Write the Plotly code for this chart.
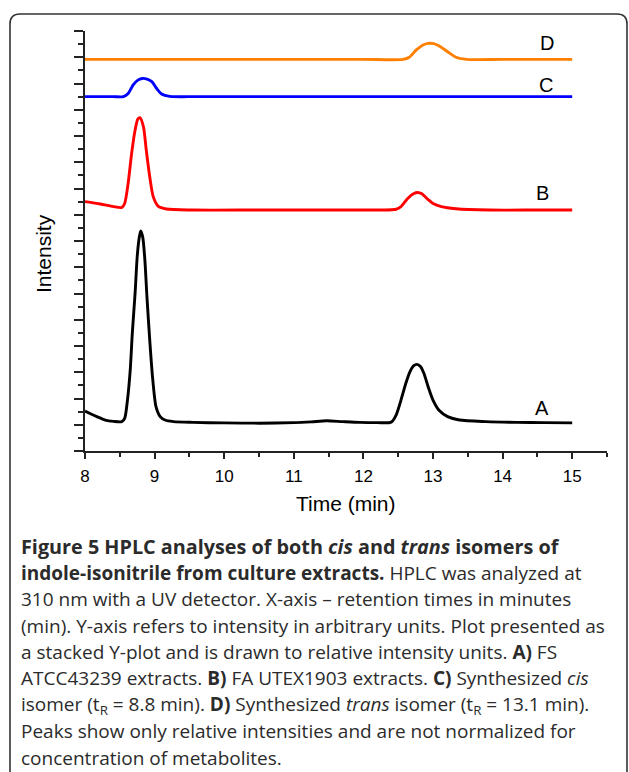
import plotly.graph_objects as go

# ---------------- data ----------------
time_A = [8.00, 8.08, 8.17, 8.29, 8.41, 8.53, 8.57, 8.61, 8.65, 8.68, 8.72, 8.75, 8.78, 8.80,
          8.83, 8.86, 8.89, 8.93, 8.97, 9.02, 9.08, 9.15, 9.27, 9.55, 10.0, 10.5, 11.0, 11.25,
          11.47, 11.7, 11.95, 12.2, 12.40, 12.47, 12.54, 12.61, 12.67, 12.72, 12.77, 12.82,
          12.87, 12.93, 13.00, 13.09, 13.21, 13.38, 13.76, 14.2, 14.6, 15.0]
int_A = [1.52, 1.42, 1.31, 1.18, 1.13, 1.12, 1.24, 1.94, 3.09, 4.50, 6.02, 7.40, 8.14, 8.38,
         8.14, 7.28, 5.88, 4.23, 2.83, 1.69, 1.31, 1.18, 1.12, 1.09, 1.07, 1.06, 1.08, 1.11,
         1.15, 1.12, 1.09, 1.08, 1.10, 1.37, 1.94, 2.58, 3.02, 3.24, 3.30, 3.22,
         2.95, 2.45, 1.94, 1.54, 1.31, 1.18, 1.12, 1.09, 1.08, 1.07]

time_B = [8.00, 8.22, 8.41, 8.53, 8.57, 8.62, 8.67, 8.72, 8.76, 8.79, 8.84, 8.88, 8.93, 8.98,
          9.05, 9.17, 9.55, 10.5, 11.5, 12.0, 12.47, 12.54, 12.64, 12.72, 12.78, 12.84, 12.92,
          13.00, 13.12, 13.33, 13.81, 14.5, 15.0]
int_B = [9.50, 9.41, 9.31, 9.28, 9.43, 10.20, 11.34, 12.23, 12.65, 12.70, 12.35, 11.47, 10.45,
         9.69, 9.33, 9.22, 9.18, 9.18, 9.18, 9.18, 9.21, 9.31, 9.63, 9.80, 9.85, 9.80, 9.60,
         9.43, 9.31, 9.23, 9.18, 9.18, 9.18]

time_C = [8.0, 8.4, 8.55, 8.62, 8.69, 8.76, 8.82, 8.88, 8.96, 9.03, 9.10, 9.22, 9.6, 10.5,
          11.5, 12.5, 13.5, 14.5, 15.0]
int_C = [13.50, 13.50, 13.50, 13.62, 13.94, 14.13, 14.19, 14.18, 14.07, 13.81, 13.60, 13.51,
         13.50, 13.50, 13.50, 13.50, 13.50, 13.50, 13.50]

time_D = [8.0, 9.0, 10.0, 11.0, 12.0, 12.57, 12.66, 12.76, 12.85, 12.93, 13.01, 13.09, 13.21,
          13.33, 13.48, 14.0, 15.0]
int_D = [14.92, 14.92, 14.92, 14.92, 14.92, 14.92, 15.00, 15.28, 15.46, 15.53, 15.52, 15.43,
         15.21, 15.00, 14.92, 14.92, 14.92]

series_names = ["A", "B", "C", "D"]
series_colors = ["#000000", "#ff0000", "#0000ff", "#ff8000"]
label_time = [14.57, 14.58, 14.63, 14.64]
label_int = [1.64, 9.83, 13.94, 15.54]

x_ticks = [8, 9, 10, 11, 12, 13, 14, 15]

caption_lines = [
    "<b>Figure 5 HPLC analyses of both <i>cis</i> and <i>trans</i> isomers of</b>",
    "<b>indole-isonitrile from culture extracts.</b> HPLC was analyzed at",
    "310 nm with a UV detector. X-axis \u2013 retention times in minutes",
    "(min). Y-axis refers to intensity in arbitrary units. Plot presented as",
    "a stacked Y-plot and is drawn to relative intensity units. <b>A)</b> FS",
    "ATCC43239 extracts. <b>B)</b> FA UTEX1903 extracts. <b>C)</b> Synthesized <i>cis</i>",
    "isomer (t<sub>R</sub> = 8.8 min). <b>D)</b> Synthesized <i>trans</i> isomer (t<sub>R</sub> = 13.1 min).",
    "Peaks show only relative intensities and are not normalized for",
    "concentration of metabolites.",
]

# ---------------- layout geometry ----------------
W, H = 629, 772
L, R, T, B = 85, 22, 31, 321
PW, PH = W - L - R, H - T - B


def px(xp):
    return (xp - L) / PW


def py(yp):
    return (H - B - yp) / PH


fig = go.Figure()
times = [time_A, time_B, time_C, time_D]
ints = [int_A, int_B, int_C, int_D]
for name, col, t, v in zip(series_names, series_colors, times, ints):
    fig.add_trace(go.Scatter(x=t, y=v, mode="lines", name=name,
                             line=dict(color=col, width=2.9, shape="spline", smoothing=0.7),
                             showlegend=False, hoverinfo="skip"))

annotations = []
for name, lt, li in zip(series_names, label_time, label_int):
    annotations.append(dict(x=lt, y=li, xref="x", yref="y", text=name, showarrow=False,
                            xanchor="center", yanchor="middle",
                            font=dict(family="Liberation Sans, Arial", size=20, color="#000")))

annotations.append(dict(x=px(43), y=py(254), xref="paper", yref="paper", text="Intensity",
                        textangle=-90, showarrow=False, xanchor="center", yanchor="middle",
                        font=dict(family="Liberation Sans, Arial", size=21, color="#000")))
annotations.append(dict(x=px(346), y=py(503), xref="paper", yref="paper", text="Time (min)",
                        showarrow=False, xanchor="center", yanchor="middle",
                        font=dict(family="Liberation Sans, Arial", size=21, color="#000")))

cap_y = [546, 572.5, 599, 625.5, 652, 678.5, 705, 731.5, 758]
cap_size = [19.8, 19, 19, 19, 19, 19, 19, 19, 19]
for line, yy, fs in zip(caption_lines, cap_y, cap_size):
    annotations.append(dict(x=px(19), y=py(yy), xref="paper", yref="paper", text=line,
                            xanchor="left", yanchor="middle", showarrow=False,
                            font=dict(family="Open Sans", size=fs, color="#2b2b2b")))

# frame with rounded top corners (bottom cut off by the image edge)
x0, x1 = px(10), px(627)
yt, yb = py(14), py(820)
rx, ry = 10 / PW, 10 / PH
path = (f"M {x0},{yb} L {x0},{yt - ry} Q {x0},{yt} {x0 + rx},{yt} "
        f"L {x1 - rx},{yt} Q {x1},{yt} {x1},{yt - ry} L {x1},{yb}")

fig.update_layout(
    width=W, height=H,
    margin=dict(l=L, r=R, t=T, b=B, pad=0),
    paper_bgcolor="white", plot_bgcolor="white",
    annotations=annotations,
    shapes=[dict(type="path", path=path, xref="paper", yref="paper",
                 line=dict(color="#333333", width=1.6))],
    xaxis=dict(range=[8, 15.5], tickvals=x_ticks, ticktext=[str(v) for v in x_ticks],
               showline=True, linecolor="#222", linewidth=1.5, showgrid=False, zeroline=False,
               ticks="outside", ticklen=6, tickwidth=1.5, tickcolor="#222",
               ticklabelstandoff=3,
               minor=dict(dtick=0.5, tick0=8, ticks="outside", ticklen=4, tickwidth=1.5, tickcolor="#222"),
               tickfont=dict(family="Liberation Sans, Arial", size=17, color="#000"),
               fixedrange=True),
    yaxis=dict(range=[0, 16], dtick=1, tick0=0, showticklabels=False,
               showline=True, linecolor="#222", linewidth=1.5, showgrid=False, zeroline=False,
               ticks="outside", ticklen=9, tickwidth=1.5, tickcolor="#222",
               minor=dict(dtick=0.5, tick0=0, ticks="outside", ticklen=5, tickwidth=1.5, tickcolor="#222"),
               fixedrange=True),
)

fig.write_html("out.html", config={"displayModeBar": False},
               post_script="document.body.style.margin='0';document.body.style.overflow='hidden';")
